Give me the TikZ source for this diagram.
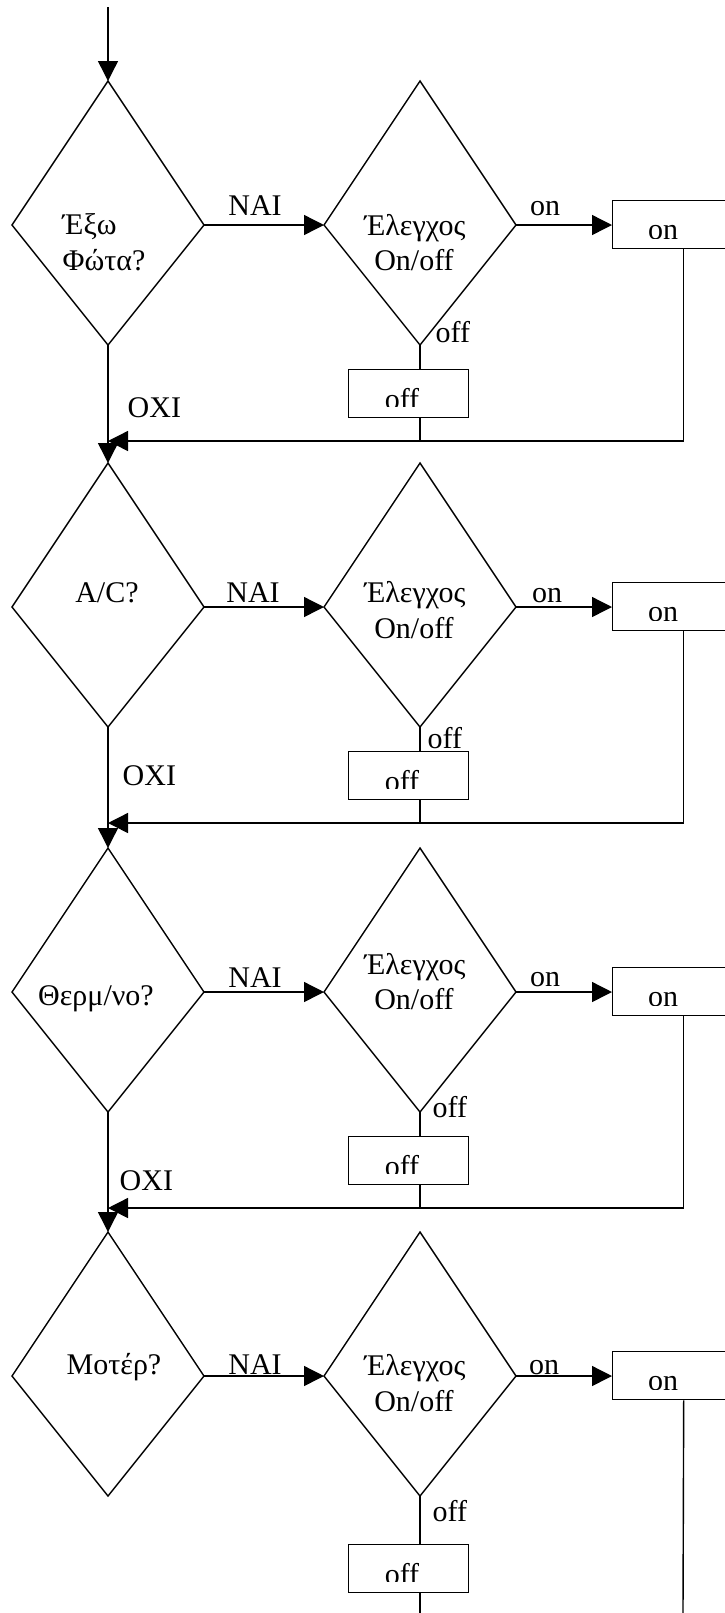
\documentclass[tikz,border=0pt]{standalone}
\usepackage{fontspec}
\setmainfont{Liberation Serif}
\usetikzlibrary{arrows.meta,positioning,calc}

\begin{document}
\begin{tikzpicture}[x=0.5pt,y=-0.5pt,>={Triangle[length=10pt,width=10pt]},line width=0.7pt,
  every node/.style={font=\fontsize{15}{18}\selectfont,inner sep=0pt},
  lbl/.style={anchor=base},
  lbll/.style={anchor=base west},
  onbox/.style={draw,anchor=north west,minimum width=71pt,minimum height=24pt},
  offbox/.style={draw,anchor=north west,minimum width=60pt,minimum height=24pt}]
\useasboundingbox (0,0) rectangle (724,1613);

\coordinate (start) at (108,7);
\foreach \i/\t/\o in {1/81/288,2/463/288,3/848/288,4/1232/312}{
  % question diamond
  \coordinate (qt\i) at (108,\t);
  \coordinate (ql\i) at (12,\t+144);
  \coordinate (qb\i) at (108,\t+264);
  \coordinate (qr\i) at (204,\t+144);
  \draw (qt\i) -- (ql\i) -- (qb\i) -- (qr\i) -- cycle;
  % on/off diamond
  \coordinate (ct\i) at (420,\t);
  \coordinate (cl\i) at (324,\t+144);
  \coordinate (cb\i) at (420,\t+264);
  \coordinate (cr\i) at (516,\t+144);
  \draw (ct\i) -- (cl\i) -- (cb\i) -- (cr\i) -- cycle;
  \node[onbox] (on\i) at (612,\t+119) {};
  \node[offbox] (off\i) at (348,\t+\o) {};
  \draw[->] (qr\i) -- (cl\i);
  \draw[->] (cr\i) -- (cr\i -| on\i.west);
  \draw (cb\i) -- (cb\i |- off\i.north);
  % box texts, cut off at the bottom
  \begin{scope}
    \clip (on\i.north west) rectangle ($(on\i.north east)+(0,38)$);
    \node[lbl] (ont\i) at ($(on\i.north west)+(51,39)$) {on};
  \end{scope}
  \begin{scope}
    \clip (off\i.north west) rectangle ($(off\i.north east)+(0,37)$);
    \node[lbl] (offt\i) at ($(off\i.north west)+(54,40)$) {off};
  \end{scope}
}
\draw[->] (start) -- (qt1);

% back to the next question
\foreach \i/\j/\t in {1/2/81,2/3/463,3/4/848}{
  \coordinate (fb\i) at (108,\t+360);
  \draw[->] (qb\i) -- (qt\j);
  \draw[->] (on\i.south) |- (fb\i);
  \draw (off\i.south -| cb\i) -- (cb\i |- fb\i);
}
\coordinate (endoff) at (420,1613);
\coordinate (endon) at (683,1613);
\draw (off4.south -| cb4) -- (endoff);
\draw (on4.south) -- (endon);

% block 1
\node[lbll] (q1a) at (62,234) {Έξω};
\node[lbll] (q1b) at (62,270) {Φώτα?};
\node[lbl] (c1a) at (415,235) {Έλεγχος};
\node[lbl] (c1b) at (414,270) {On/off};
\node[lbl] (yes1) at (255,215) {ΝΑΙ};
\node[lbl] (onl1) at (545,215) {on};
\node[lbll] (offl1) at (435,342) {off};
\node[lbll] (no1) at (127,417) {ΟΧΙ};

% block 2
\node[lbl] (q2a) at (107,602) {A/C?};
\node[lbl] (c2a) at (415,602) {Έλεγχος};
\node[lbl] (c2b) at (414,638) {On/off};
\node[lbl] (yes2) at (253,602) {ΝΑΙ};
\node[lbl] (onl2) at (547,602) {on};
\node[lbll] (offl2) at (427,748) {off};
\node[lbll] (no2) at (122,785) {ΟΧΙ};

% block 3
\node[lbl] (q3a) at (96,1005) {Θερμ/νο?};
\node[lbl] (c3a) at (415,974) {Έλεγχος};
\node[lbl] (c3b) at (414,1009) {On/off};
\node[lbl] (yes3) at (255,987) {ΝΑΙ};
\node[lbl] (onl3) at (545,986) {on};
\node[lbll] (offl3) at (432,1117) {off};
\node[lbll] (no3) at (119,1190) {ΟΧΙ};

% block 4
\node[lbl] (q4a) at (114,1374) {Μοτέρ?};
\node[lbl] (c4a) at (415,1375) {Έλεγχος};
\node[lbl] (c4b) at (414,1411) {On/off};
\node[lbl] (yes4) at (255,1374) {ΝΑΙ};
\node[lbl] (onl4) at (544,1374) {on};
\node[lbll] (offl4) at (432,1521) {off};
\end{tikzpicture}
\end{document}
